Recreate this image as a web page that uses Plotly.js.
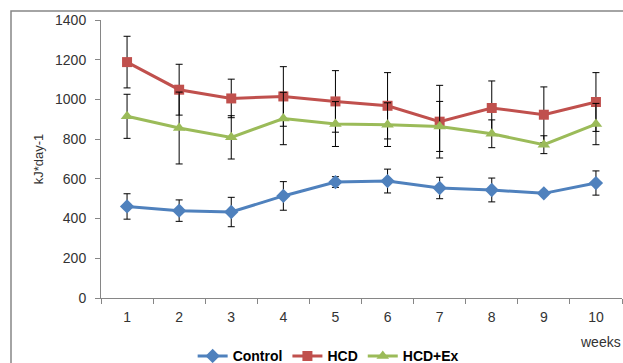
<!DOCTYPE html>
<html><head><meta charset="utf-8">
<script src="https://cdn.plot.ly/plotly-3.0.1.min.js"></script>
<style>html,body{margin:0;padding:0;background:#fff}#chart{width:623px;height:363px}</style>
</head><body><div id="chart"></div>
<script>
const weeks = ["1","2","3","4","5","6","7","8","9","10"];
const control = [461, 440, 433, 514, 584, 589, 554, 544, 527, 579];
const controlErr = [64, 54, 74, 72, 27, 60, 54, 60, 6, 61];
const hcd = [1188, 1049, 1005, 1015, 990, 968, 888, 957, 923, 987];
const hcdErr = [130, 128, 97, 150, 155, 167, 183, 136, 140, 148];
const hcdEx = [915, 856, 809, 904, 876, 873, 864, 827, 772, 876];
const hcdExErr = [111, 181, 109, 132, 113, 110, 126, 70, 45, 104];

const font = "Liberation Sans, Arial, sans-serif";
function tr(name, y, err, color, symbol, size) {
  return {
    type: "scatter", mode: "lines+markers", name: name, x: weeks, y: y,
    line: {color: color, width: 3},
    marker: {color: color, symbol: symbol, size: size},
    error_y: {type: "data", array: err, visible: true, color: "#000", thickness: 1, width: 3.5}
  };
}
const data = [
  tr("Control", control, controlErr, "#4F81BD", "diamond", 11),
  tr("HCD", hcd, hcdErr, "#C0504D", "square", 10),
  tr("HCD+Ex", hcdEx, hcdExErr, "#9BBB59", "triangle-up", 11)
];
const layout = {
  width: 623, height: 363,
  margin: {l: 101, r: 1, t: 20, b: 65, autoexpand: false},
  paper_bgcolor: "#fff", plot_bgcolor: "#fff",
  showlegend: true,
  font: {family: font, size: 14, color: "#333"},
  xaxis: {
    type: "category", range: [-0.5, 9.5], showgrid: false, zeroline: false,
    showline: true, linecolor: "#868686", linewidth: 1,
    ticks: "outside", tickson: "boundaries", ticklen: 5, tickcolor: "#868686",
    tickfont: {family: font, size: 14, color: "#333"}, ticklabelstandoff: 6
  },
  yaxis: {
    range: [0, 1400], dtick: 200, showgrid: false, zeroline: false,
    showline: true, linecolor: "#868686", linewidth: 1,
    ticks: "outside", ticklen: 5, tickcolor: "#868686",
    tickfont: {family: font, size: 14, color: "#333"}, ticklabelstandoff: 6,
    title: {text: "kJ*day-1", font: {family: font, size: 13, color: "#333"}, standoff: 8}
  },
  legend: {
    orientation: "h", x: 0.436, xanchor: "center", y: -0.21, yanchor: "middle",
    font: {family: font, size: 14, color: "#000", weight: "bold"},
    bgcolor: "rgba(0,0,0,0)", itemwidth: 30
  },
  annotations: [{
    text: "weeks", xref: "paper", yref: "paper", x: (600-101)/521, y: (298-341.5)/278,
    xanchor: "center", yanchor: "middle", showarrow: false,
    font: {family: font, size: 14, color: "#333"}
  }],
  shapes: [{
    type: "rect", xref: "paper", yref: "paper",
    x0: (11-101)/521, x1: 1.2, y0: -0.5, y1: 1 + 9/278,
    line: {color: "#868686", width: 1.5}, fillcolor: "rgba(0,0,0,0)", layer: "below"
  }]
};
Plotly.newPlot("chart", data, layout, {displayModeBar: false, staticPlot: true});
</script></body></html>
